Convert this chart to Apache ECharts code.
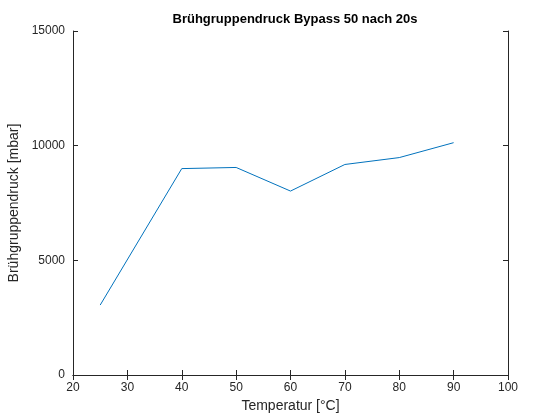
<!DOCTYPE html>
<html>
<head>
<meta charset="utf-8">
<script src="https://cdn.jsdelivr.net/npm/echarts@6/dist/echarts.min.js"></script>
<style>html,body{margin:0;padding:0;background:#fff}</style>
</head>
<body>
<div id="container" style="width:560px;height:420px;"></div>
<script>
    var temps = [25, 40, 50, 60, 70, 80, 90];
    var pressure = [3050, 9000, 9050, 8020, 9180, 9480, 10130];

    var font = 'Liberation Sans, Arial, sans-serif';
    var axisLine = { show: true, lineStyle: { color: '#262626', width: 1 } };
    var tick = { show: true, inside: true, length: 5, lineStyle: { color: '#262626' } };

    var myChart = echarts.init(document.getElementById('container'));
    var option = {
        animation: false,
        title: {
            text: 'Brühgruppendruck Bypass 50 nach 20s',
            left: 290, top: 8, textAlign: 'center',
            textStyle: { fontFamily: font, fontSize: 13, fontWeight: 'bold', color: '#000' }
        },
        grid: { left: 73, right: 52, top: 31, bottom: 45, containLabel: false, outerBoundsMode: 'none' },
        xAxis: [
            { type: 'value', min: 20, max: 100, interval: 10, position: 'bottom',
              name: 'Temperatur [°C]', nameLocation: 'middle', nameGap: 22,
              nameTextStyle: { fontFamily: font, fontSize: 14, color: '#262626' },
              axisLine: axisLine, axisTick: tick, splitLine: { show: false },
              axisLabel: { fontFamily: font, fontSize: 12, color: '#262626', margin: 7 } },
            { type: 'value', min: 20, max: 100, interval: 10, position: 'top',
              axisLine: axisLine, axisTick: tick, splitLine: { show: false },
              axisLabel: { show: false } }
        ],
        yAxis: [
            { type: 'value', min: 0, max: 15000, interval: 5000, position: 'left',
              name: 'Brühgruppendruck [mbar]', nameLocation: 'middle', nameGap: 46,
              nameTextStyle: { fontFamily: font, fontSize: 14, color: '#262626' },
              axisLine: axisLine, axisTick: tick, splitLine: { show: false },
              axisLabel: { fontFamily: font, fontSize: 12, color: '#262626', margin: 8,
                           formatter: function (v) { return String(v); } } },
            { type: 'value', min: 0, max: 15000, interval: 5000, position: 'right',
              axisLine: axisLine, axisTick: tick, splitLine: { show: false },
              axisLabel: { show: false } }
        ],
        series: [{
            type: 'line',
            data: temps.map(function (t, i) { return [t, pressure[i]]; }),
            showSymbol: false,
            lineStyle: { color: '#0072BD', width: 1 }
        }]
    };
    myChart.setOption(option);
</script>
</body>
</html>
